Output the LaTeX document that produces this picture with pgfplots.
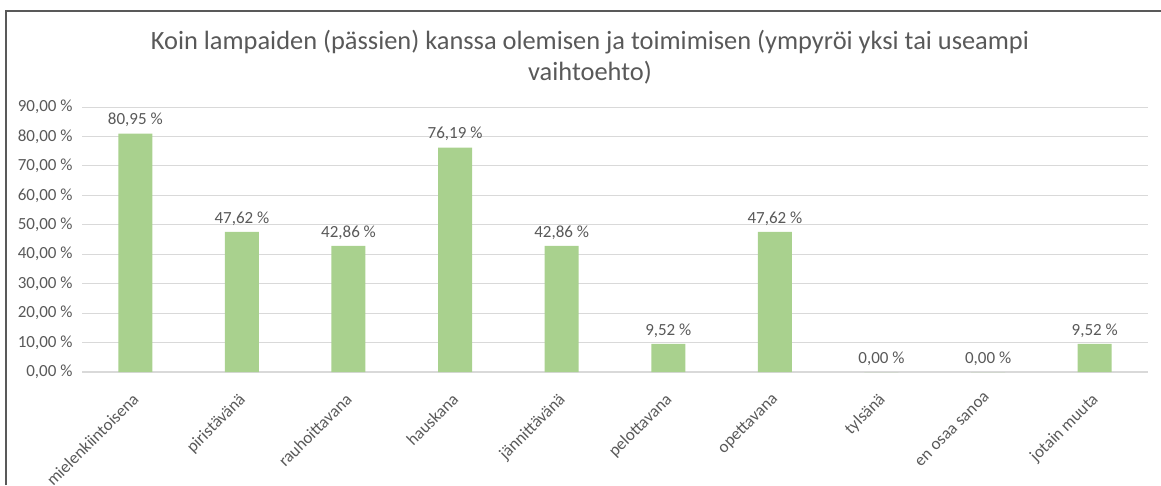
\documentclass[border=0pt]{standalone}
\usepackage{pgfplots}
\pgfplotsset{compat=1.18}
\usepackage{fontspec}
\setmainfont{Carlito}
\definecolor{barg}{HTML}{A9D18E}
\definecolor{txt}{HTML}{595959}
\definecolor{grd}{HTML}{D9D9D9}
\begin{document}
\begin{tikzpicture}[x=1pt,y=1pt]
\useasboundingbox (0,0) rectangle (1161,485);
\draw[line width=1.4pt, color=black!65] (6,0) -- (6,474) -- (1161,474);
\node[align=center, text=txt, font=\fontsize{26.4}{31}\selectfont] at (590,428)
  {Koin lampaiden (pässien) kanssa olemisen ja toimimisen (ympyröi yksi tai useampi\\vaihtoehto)};
\begin{axis}[
  at={(82pt,113pt)}, anchor=south west,
  scale only axis, width=1066pt, height=265pt,
  xmin=-0.5, xmax=9.5, ymin=0, ymax=90,
  ytick={0,10,...,90},
  xtick={0,...,9},
  xticklabels={mielenkiintoisena,piristävänä,rauhoittavana,hauskana,jännittävänä,pelottavana,opettavana,tylsänä,en osaa sanoa,jotain muuta},
  axis line style={draw=none},
  axis x line*=bottom,
  ymajorgrids, grid style={grd, line width=1pt},
  major tick length=0pt,
  /pgf/number format/assume math mode=true,
  yticklabel={\pgfmathprintnumber[fixed,fixed zerofill,precision=2,use comma]{\tick}~\%},
  yticklabel style={text=txt, font=\fontsize{17}{19}\selectfont, xshift=-6pt},
  xticklabel style={text=txt, font=\fontsize{17}{19}\selectfont, xshift=-4pt, yshift=-15pt, rotate=45, anchor=north east},
  nodes near coords={\pgfmathprintnumber[fixed,fixed zerofill,precision=2,use comma]{\pgfplotspointmeta}~\%},
  nodes near coords style={text=txt, font=\fontsize{17}{19}\selectfont, anchor=south, yshift=3pt},
  clip=false,
]
\draw[grd, line width=1.2pt] (axis cs:-0.5,0) -- (axis cs:9.5,0);
\addplot[ybar, bar width=34pt, fill=barg, draw=none] coordinates {
(0,80.95) (1,47.62) (2,42.86) (3,76.19) (4,42.86) (5,9.52) (6,47.62) (7,0) (8,0) (9,9.52)};
\end{axis}
\end{tikzpicture}
\end{document}
